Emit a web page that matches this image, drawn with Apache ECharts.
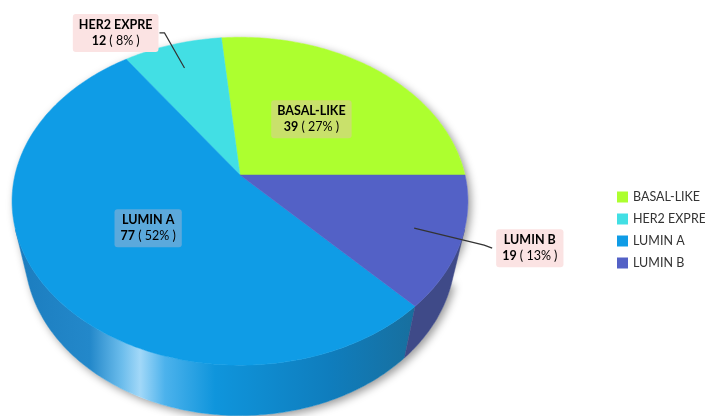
<!DOCTYPE html>
<html><head><meta charset="utf-8">
<script src="https://cdn.jsdelivr.net/npm/echarts@6/dist/echarts.min.js"></script>
<style>html,body{margin:0;padding:0;background:#fff}#c{width:705px;height:416px}</style>
</head><body><div id="c"></div>
<script>
// ---- data ----
const categories = ['BASAL-LIKE', 'HER2 EXPRE', 'LUMIN A', 'LUMIN B'];
const values = [39, 12, 77, 19];

// ---- styles / layout ----
const topColors = ['#adff2f', '#42dfe4', '#0f9ce6', '#5361c6'];
const sideColors = ['#8fd020', '#30b8c0', null, '#3f4a88'];
const labelCfg = [
  {inside: true, bg: '#c9e16b'},
  {inside: false, bg: '#fbe3e3', elbow: [-20, -35], tail: [-5, 0], side: 'left'},
  {inside: true, bg: '#5ba9dc'},
  {inside: false, bg: '#fbe3e3', elbow: [70, 17], tail: [8, 3], side: 'right'}
];
const CX = 240, CY = 175, F = 990, D = 4.4, S = 0.71, C = 0.704, H = 0.354;

const total = values.reduce((a, b) => a + b, 0);
const cum = [0];
values.forEach((v, i) => cum.push(cum[i] + v));

function proj(u, v, h) {
  const yc = v * S + h * C, zc = D - v * C + h * S;
  return [CX + F * u / zc, CY + F * yc / zc];
}
function pt(deg, r, h) {
  const t = deg * Math.PI / 180;
  return proj(r * Math.cos(t), -r * Math.sin(t), h);
}
function arc(a0, a1, r, h) {
  const pts = [];
  const n = Math.max(2, Math.ceil(Math.abs(a1 - a0)));
  for (let k = 0; k <= n; k++) pts.push(pt(a0 + (a1 - a0) * k / n, r, h));
  return pts;
}
const vmin = 1 / (D * C);
const visA0 = 180 + Math.asin(vmin) * 180 / Math.PI;
const visA1 = 360 - Math.asin(vmin) * 180 / Math.PI;

function angles(idx, val) {
  const a0 = cum[idx] / total * 360;
  return [a0, a0 + val / total * 360];
}

const x0 = 12, x1 = 415;
function gx(x) { return (x - x0) / (x1 - x0); }
const lumASide = new echarts.graphic.LinearGradient(x0, 0, x1, 0, [
  {offset: 0, color: '#1b7cbe'},
  {offset: gx(90), color: '#2388ca'},
  {offset: gx(122), color: '#6cbdec'},
  {offset: gx(140), color: '#a2d8f8'},
  {offset: gx(165), color: '#4cb2ec'},
  {offset: gx(215), color: '#0f95dc'},
  {offset: gx(330), color: '#0f7dbd'},
  {offset: 1, color: '#186f9e'}
], true);

function renderSides(params, api) {
  const idx = params.dataIndex;
  const [a0, a1] = angles(idx, api.value(0));
  const children = [];
  if (idx === 0) {
    const top = arc(visA0 - 360, visA0, 1, 0);
    const bot = arc(visA0, visA1, 1, H);
    children.push({
      type: 'polygon', z2: -1,
      shape: {points: top.concat(bot)},
      style: {fill: '#ffffff', shadowBlur: 9, shadowOffsetX: 3, shadowOffsetY: 3, shadowColor: 'rgba(0,0,0,0.4)'}
    });
  }
  const s = Math.max(a0, visA0), e = Math.min(a1, visA1);
  if (e > s) {
    const top = arc(s, e, 1, 0);
    const bot = arc(e, s, 1, H);
    children.push({
      type: 'polygon', z2: 1,
      shape: {points: top.concat(bot)},
      style: {fill: sideColors[idx] || lumASide, stroke: sideColors[idx] || lumASide, lineWidth: 0.5}
    });
  }
  return {type: 'group', children};
}

function renderTops(params, api) {
  const idx = params.dataIndex;
  const val = api.value(0);
  const [a0, a1] = angles(idx, val);
  const pts = [proj(0, 0, 0)].concat(arc(a0, a1, 1, 0));
  const children = [{
    type: 'polygon', z2: 10,
    shape: {points: pts},
    style: {fill: topColors[idx], stroke: topColors[idx], lineWidth: 0.5}
  }];
  const mid = (a0 + a1) / 2;
  const pct = Math.round(val / total * 100);
  const cfg = labelCfg[idx];
  const text = '{b|' + categories[idx] + '}\n{v|' + val + '}{p| ( ' + pct + '% )}';
  const rich = {
    b: {fontWeight: 'bold', fontSize: 12.5, fontFamily: 'Lato', color: '#222', lineHeight: 16, align: 'center'},
    v: {fontWeight: 'bold', fontSize: 12.5, fontFamily: 'Lato', color: '#222', lineHeight: 16, align: 'center'},
    p: {fontSize: 12.5, fontFamily: 'Lato', color: '#222', lineHeight: 16, align: 'center'}
  };
  let tx, ty, align;
  if (cfg.inside) {
    [tx, ty] = pt(mid, 0.5, 0);
    align = 'center';
  } else {
    const anc = pt(mid, 0.8, 0);
    const el = [anc[0] + cfg.elbow[0], anc[1] + cfg.elbow[1]];
    const tl = [el[0] + cfg.tail[0], el[1] + cfg.tail[1]];
    children.push({
      type: 'polyline', z2: 20,
      shape: {points: [anc, el, tl]},
      style: {stroke: '#333', lineWidth: 1.2, fill: null}
    });
    tx = cfg.side === 'left' ? tl[0] - 1 : tl[0] + 4;
    ty = tl[1];
    align = cfg.side === 'left' ? 'right' : 'left';
  }
  children.push({
    type: 'text', z2: 30,
    style: {
      text, rich, x: tx, y: ty, align, verticalAlign: 'middle',
      backgroundColor: cfg.bg, padding: [3, 6, 3, 6], borderRadius: 3
    }
  });
  return {type: 'group', children};
}

const seriesData = categories.map((n, i) => ({name: n, value: values[i]}));
const chart = echarts.init(document.getElementById('c'));
chart.setOption({
  animation: false,
  color: topColors,
  legend: {
    orient: 'vertical', left: 617, top: 190, padding: 0,
    data: categories, icon: 'rect', itemWidth: 11, itemHeight: 11, itemGap: 8,
    selectedMode: false,
    itemStyle: {opacity: 1},
    textStyle: {fontFamily: 'Lato', fontSize: 12.5, lineHeight: 14, color: '#333'}
  },
  series: [
    {type: 'pie', center: [-500, -500], radius: 2, silent: true, label: {show: false}, labelLine: {show: false}, data: seriesData},
    {type: 'custom', coordinateSystem: 'none', z: 2, silent: true, renderItem: renderSides, data: seriesData},
    {type: 'custom', coordinateSystem: 'none', z: 3, silent: true, renderItem: renderTops, data: seriesData}
  ]
});
</script></body></html>
